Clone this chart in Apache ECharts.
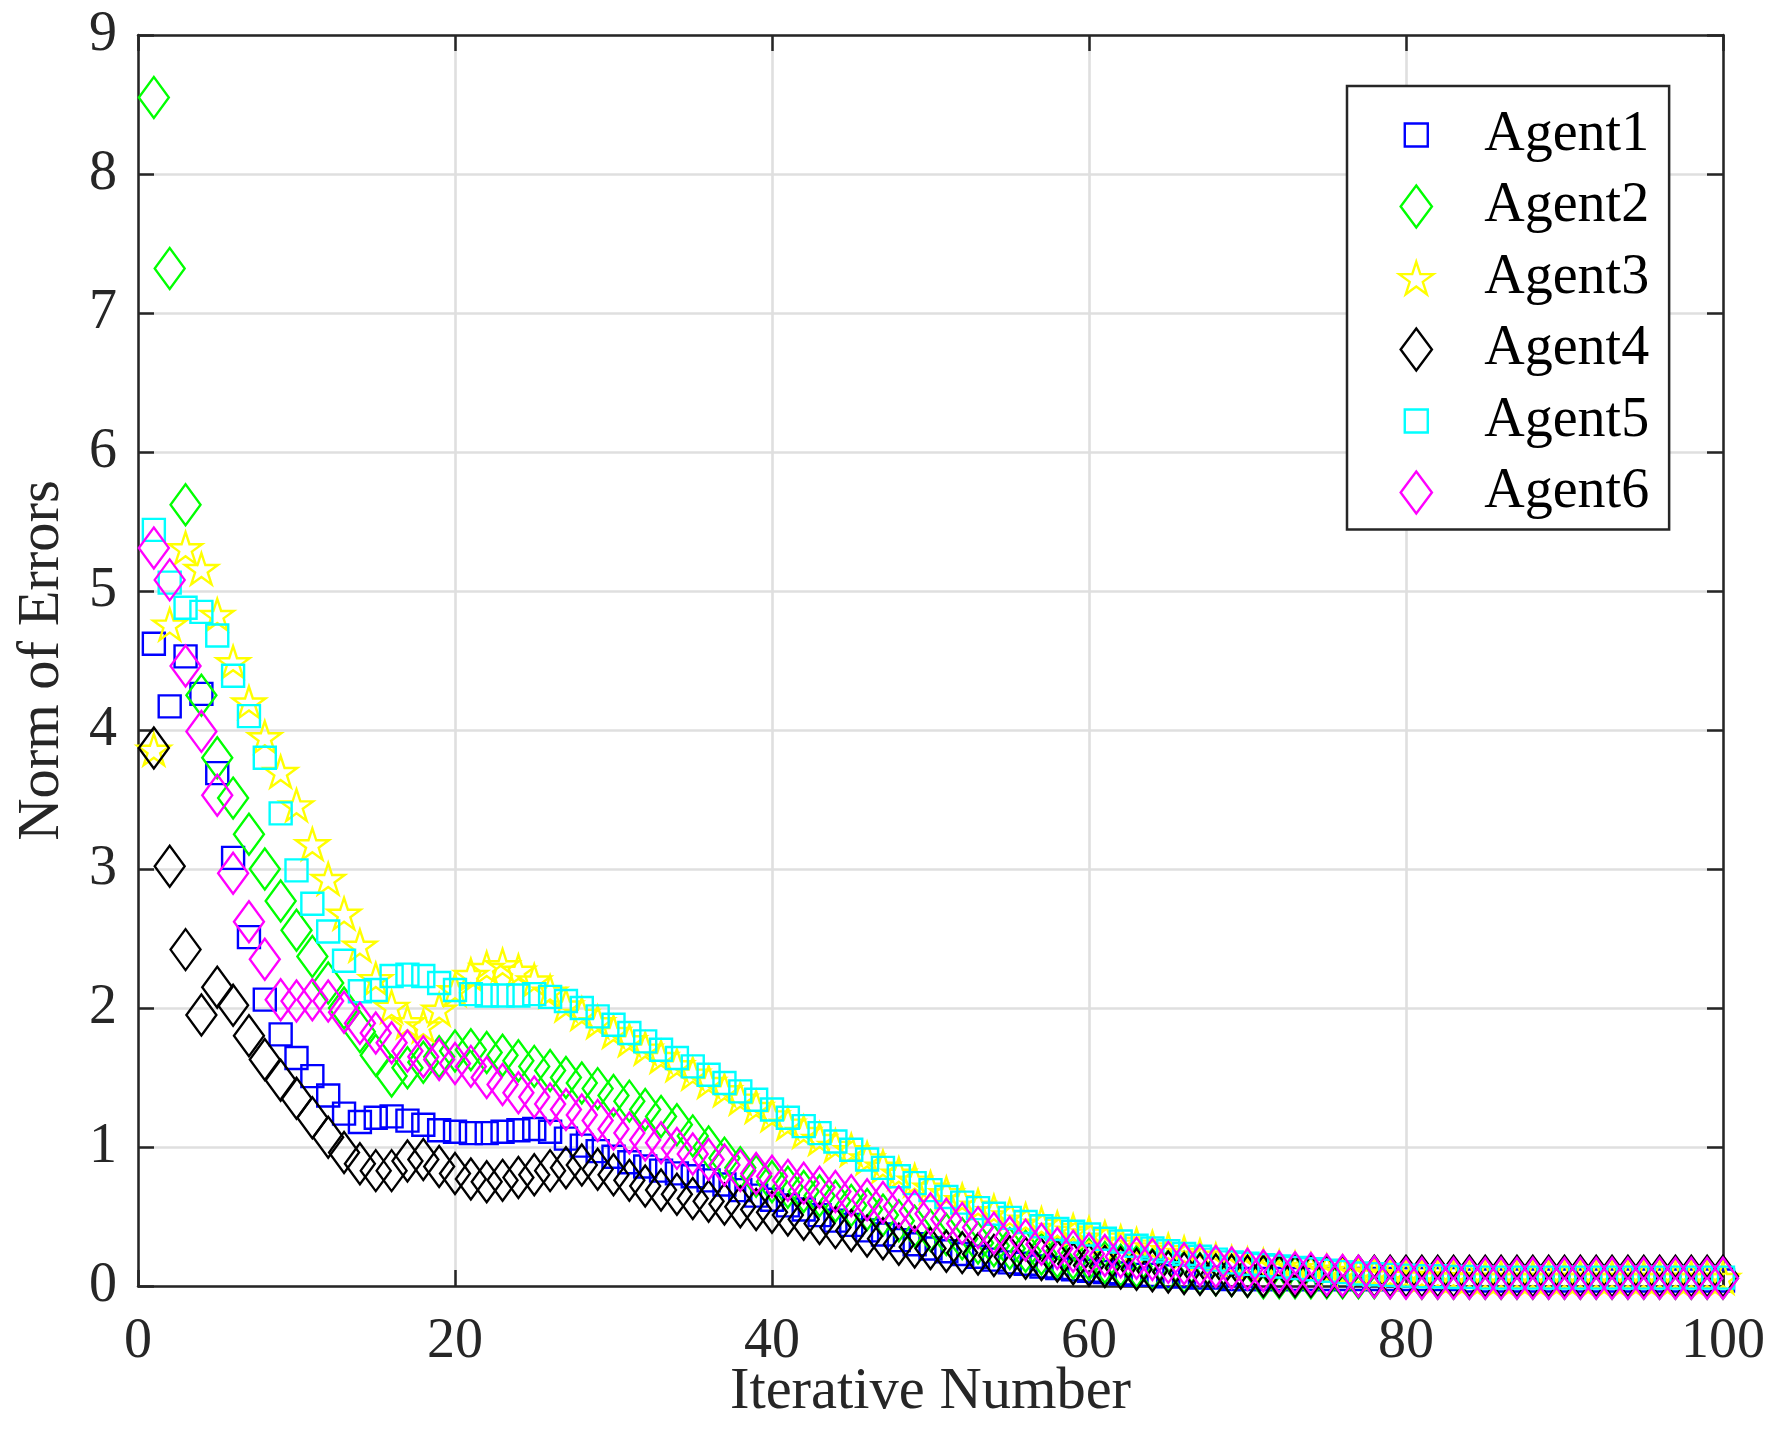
<!DOCTYPE html>
<html>
<head>
<meta charset="utf-8">
<title>Norm of Errors</title>
<script src="https://cdn.jsdelivr.net/npm/echarts@6/dist/echarts.min.js"></script>
<style>
    html, body { margin: 0; padding: 0; background: #fff; }
    #chart { width: 1785px; height: 1453px; }
</style>
</head>
<body>
<div id="chart"></div>
<script>
// iteration index (x)
var iterations = [
    1, 2, 3, 4, 5, 6, 7, 8, 9, 10, 11, 12, 13, 14, 15, 16, 17, 18, 19, 20,
    21, 22, 23, 24, 25, 26, 27, 28, 29, 30, 31, 32, 33, 34, 35, 36, 37, 38, 39, 40,
    41, 42, 43, 44, 45, 46, 47, 48, 49, 50, 51, 52, 53, 54, 55, 56, 57, 58, 59, 60,
    61, 62, 63, 64, 65, 66, 67, 68, 69, 70, 71, 72, 73, 74, 75, 76, 77, 78, 79, 80,
    81, 82, 83, 84, 85, 86, 87, 88, 89, 90, 91, 92, 93, 94, 95, 96, 97, 98, 99, 100
];

var agent1 = [
    4.62, 4.17, 4.53, 4.26, 3.69, 3.08, 2.51, 2.06, 1.81, 1.64,
    1.51, 1.37, 1.24, 1.18, 1.21, 1.22, 1.19, 1.16, 1.12, 1.11,
    1.10, 1.10, 1.11, 1.12, 1.13, 1.11, 1.06, 1.01, 0.97, 0.93,
    0.89, 0.86, 0.83, 0.81, 0.79, 0.76, 0.73, 0.69, 0.65, 0.62,
    0.58, 0.55, 0.51, 0.47, 0.44, 0.40, 0.37, 0.33, 0.30, 0.27,
    0.25, 0.23, 0.21, 0.19, 0.17, 0.16, 0.14, 0.13, 0.12, 0.11,
    0.10, 0.09, 0.08, 0.08, 0.07, 0.07, 0.06, 0.06, 0.05, 0.05,
    0.05, 0.05, 0.05, 0.05, 0.05, 0.05, 0.05, 0.05, 0.05, 0.05,
    0.05, 0.05, 0.05, 0.04, 0.04, 0.04, 0.04, 0.04, 0.04, 0.04,
    0.04, 0.04, 0.04, 0.04, 0.04, 0.04, 0.04, 0.04, 0.04, 0.04
];

var agent2 = [
    8.55, 7.32, 5.62, 4.25, 3.80, 3.51, 3.25, 3.00, 2.77, 2.56,
    2.37, 2.18, 2.00, 1.83, 1.66, 1.51, 1.57, 1.61, 1.65, 1.69,
    1.70, 1.68, 1.66, 1.62, 1.58, 1.55, 1.50, 1.46, 1.42, 1.37,
    1.33, 1.27, 1.22, 1.16, 1.08, 1.00, 0.92, 0.85, 0.79, 0.75,
    0.71, 0.68, 0.65, 0.61, 0.58, 0.55, 0.51, 0.47, 0.43, 0.40,
    0.37, 0.34, 0.31, 0.29, 0.27, 0.25, 0.23, 0.21, 0.20, 0.19,
    0.17, 0.15, 0.14, 0.12, 0.11, 0.10, 0.09, 0.08, 0.075, 0.07,
    0.06, 0.06, 0.06, 0.06, 0.06, 0.06, 0.06, 0.06, 0.06, 0.06,
    0.055, 0.055, 0.055, 0.055, 0.055, 0.055, 0.055, 0.055, 0.055, 0.055,
    0.055, 0.055, 0.055, 0.055, 0.055, 0.055, 0.055, 0.055, 0.055, 0.055
];

var agent3 = [
    3.86, 4.76, 5.31, 5.16, 4.83, 4.49, 4.20, 3.95, 3.70, 3.46,
    3.18, 2.93, 2.68, 2.45, 2.21, 2.01, 1.90, 1.87, 1.99, 2.13,
    2.24, 2.29, 2.31, 2.27, 2.20, 2.12, 2.02, 1.96, 1.90, 1.83,
    1.77, 1.71, 1.65, 1.59, 1.53, 1.47, 1.41, 1.35, 1.29, 1.23,
    1.17, 1.11, 1.06, 1.01, 0.98, 0.92, 0.86, 0.81, 0.76, 0.71,
    0.67, 0.62, 0.58, 0.54, 0.51, 0.48, 0.45, 0.42, 0.40, 0.38,
    0.35, 0.32, 0.30, 0.28, 0.26, 0.24, 0.22, 0.19, 0.17, 0.16,
    0.15, 0.14, 0.13, 0.12, 0.11, 0.10, 0.09, 0.085, 0.08, 0.075,
    0.07, 0.065, 0.065, 0.06, 0.06, 0.06, 0.06, 0.06, 0.06, 0.06,
    0.06, 0.06, 0.06, 0.06, 0.06, 0.06, 0.06, 0.06, 0.06, 0.06
];

var agent4 = [
    3.87, 3.02, 2.42, 1.95, 2.15, 2.02, 1.80, 1.63, 1.48, 1.35,
    1.21, 1.07, 0.96, 0.88, 0.83, 0.83, 0.90, 0.91, 0.86, 0.81,
    0.77, 0.75, 0.76, 0.78, 0.80, 0.83, 0.85, 0.87, 0.84, 0.80,
    0.76, 0.72, 0.69, 0.66, 0.63, 0.61, 0.59, 0.57, 0.55, 0.53,
    0.51, 0.48, 0.45, 0.42, 0.40, 0.36, 0.34, 0.30, 0.28, 0.27,
    0.25, 0.24, 0.23, 0.22, 0.21, 0.20, 0.19, 0.18, 0.16, 0.15,
    0.14, 0.13, 0.12, 0.11, 0.10, 0.09, 0.085, 0.08, 0.075, 0.07,
    0.07, 0.07, 0.07, 0.07, 0.07, 0.07, 0.07, 0.07, 0.07, 0.07,
    0.07, 0.07, 0.07, 0.07, 0.07, 0.07, 0.07, 0.07, 0.07, 0.07,
    0.07, 0.07, 0.07, 0.07, 0.07, 0.07, 0.07, 0.07, 0.07, 0.07
];

var agent5 = [
    5.44, 5.06, 4.88, 4.85, 4.68, 4.39, 4.10, 3.80, 3.40, 2.99,
    2.75, 2.55, 2.34, 2.12, 2.13, 2.23, 2.24, 2.23, 2.18, 2.13,
    2.10, 2.09, 2.09, 2.09, 2.10, 2.08, 2.05, 2.00, 1.94, 1.88,
    1.82, 1.76, 1.70, 1.64, 1.58, 1.52, 1.46, 1.40, 1.34, 1.27,
    1.21, 1.15, 1.10, 1.04, 0.98, 0.91, 0.85, 0.79, 0.74, 0.69,
    0.64, 0.60, 0.56, 0.52, 0.49, 0.46, 0.43, 0.41, 0.39, 0.37,
    0.34, 0.32, 0.29, 0.27, 0.25, 0.23, 0.21, 0.19, 0.17, 0.16,
    0.15, 0.14, 0.13, 0.12, 0.11, 0.10, 0.09, 0.085, 0.08, 0.075,
    0.07, 0.07, 0.065, 0.065, 0.06, 0.06, 0.06, 0.06, 0.06, 0.06,
    0.06, 0.06, 0.06, 0.06, 0.06, 0.06, 0.06, 0.06, 0.06, 0.06
];

var agent6 = [
    5.31, 5.08, 4.46, 3.99, 3.53, 2.97, 2.62, 2.35, 2.06, 2.05,
    2.06, 2.05, 1.97, 1.89, 1.82, 1.75, 1.69, 1.65, 1.63, 1.60,
    1.58, 1.50, 1.45, 1.39, 1.36, 1.31, 1.27, 1.23, 1.19, 1.13,
    1.10, 1.05, 1.03, 0.99, 0.95, 0.91, 0.87, 0.83, 0.81, 0.79,
    0.76, 0.74, 0.71, 0.68, 0.65, 0.62, 0.60, 0.57, 0.54, 0.52,
    0.48, 0.45, 0.42, 0.38, 0.35, 0.33, 0.30, 0.27, 0.25, 0.23,
    0.22, 0.21, 0.20, 0.19, 0.17, 0.16, 0.15, 0.14, 0.13, 0.12,
    0.11, 0.10, 0.095, 0.09, 0.08, 0.075, 0.07, 0.065, 0.06, 0.055,
    0.055, 0.055, 0.055, 0.055, 0.055, 0.055, 0.055, 0.055, 0.055, 0.055,
    0.055, 0.055, 0.055, 0.055, 0.055, 0.055, 0.055, 0.055, 0.055, 0.055
];

var names = ['Agent1', 'Agent2', 'Agent3', 'Agent4', 'Agent5', 'Agent6'];
var colors = ['#0000ff', '#00ff00', '#ffff00', '#000000', '#00ffff', '#ff00ff'];
var values = [agent1, agent2, agent3, agent4, agent5, agent6];

var xTicks = { min: 0, max: 100, interval: 20 };
var yTicks = { min: 0, max: 9, interval: 1 };

var FONT = '"Liberation Serif", "Times New Roman", serif';
var AXIS_COLOR = '#262626';

// marker shapes
var STAR = 'path://M0,-100 L22.45,-30.9 L95.1,-30.9 L36.33,11.8 L58.78,80.9 L0,38.2 L-58.78,80.9 L-36.33,11.8 L-95.1,-30.9 L-22.45,-30.9 Z';
var symbols = ['rect', 'diamond', STAR, 'diamond', 'rect', 'diamond'];
var sizes = [22, [30, 41], 33, [30, 41], 22, [30, 41]];

// legend icons (padded so they keep their size inside the icon box)
var ICON_SQUARE = 'path://M0,0 L23,0 L23,23 L0,23 Z M-5,-9.5 M28,32.5';
var ICON_DIAMOND = 'path://M16,0 L32,21.5 L16,43 L0,21.5 Z';
var ICON_STAR = STAR + ' M0,-126.5 M0,107.4';
var legendIcons = [ICON_SQUARE, ICON_DIAMOND, ICON_STAR, ICON_DIAMOND, ICON_SQUARE, ICON_DIAMOND];

function pairs(ys) {
    var out = [];
    for (var i = 0; i < ys.length; i++) {
        out.push([iterations[i], ys[i]]);
    }
    return out;
}

var series = [];
var legendData = [];
for (var k = 0; k < names.length; k++) {
    series.push({
        name: names[k],
        type: 'scatter',
        symbol: symbols[k],
        symbolSize: sizes[k],
        symbolKeepAspect: true,
        itemStyle: {
            color: 'rgba(0,0,0,0)',
            borderColor: colors[k],
            borderWidth: 2.4,
            opacity: 1
        },
        emphasis: { disabled: true },
        data: pairs(values[k])
    });
    legendData.push({ name: names[k], icon: legendIcons[k] });
}

var chart = echarts.init(document.getElementById('chart'));
var option = {
    animation: false,
    backgroundColor: '#ffffff',
    grid: {
        left: 138,
        right: 62,
        top: 35,
        bottom: 167,
        containLabel: false
    },
    legend: {
        orient: 'vertical',
        left: 1347,
        top: 86,
        padding: [21, 20, 9, 51],
        itemGap: 15.5,
        itemWidth: 126,
        itemHeight: 42,
        backgroundColor: '#ffffff',
        borderColor: AXIS_COLOR,
        borderWidth: 2.5,
        borderRadius: 0,
        itemStyle: { borderWidth: 2.4 },
        textStyle: {
            fontFamily: FONT,
            fontSize: 56,
            color: '#000'
        },
        data: legendData
    },
    xAxis: [
        {
            type: 'value',
            position: 'bottom',
            min: xTicks.min,
            max: xTicks.max,
            interval: xTicks.interval,
            name: 'Iterative Number',
            nameLocation: 'middle',
            nameGap: 77,
            nameMoveOverlap: false,
            nameTextStyle: { fontFamily: FONT, fontSize: 58.5, color: AXIS_COLOR },
            axisLine: { show: true, onZero: false, lineStyle: { color: AXIS_COLOR, width: 2.5 } },
            axisTick: { show: true, inside: true, length: 16, lineStyle: { color: AXIS_COLOR, width: 2.5 } },
            axisLabel: { margin: 28, fontFamily: FONT, fontSize: 56, color: AXIS_COLOR },
            splitLine: { show: true, lineStyle: { color: '#dfdfdf', width: 2.6 } }
        },
        {
            type: 'value',
            position: 'top',
            min: xTicks.min,
            max: xTicks.max,
            interval: xTicks.interval,
            axisLine: { show: true, onZero: false, lineStyle: { color: AXIS_COLOR, width: 2.5 } },
            axisTick: { show: true, inside: true, length: 16, lineStyle: { color: AXIS_COLOR, width: 2.5 } },
            axisLabel: { show: false },
            splitLine: { show: false }
        }
    ],
    yAxis: [
        {
            type: 'value',
            position: 'left',
            min: yTicks.min,
            max: yTicks.max,
            interval: yTicks.interval,
            name: 'Norm of Errors',
            nameLocation: 'middle',
            nameGap: 66,
            nameTextStyle: { fontFamily: FONT, fontSize: 58.5, color: AXIS_COLOR },
            axisLine: { show: true, onZero: false, lineStyle: { color: AXIS_COLOR, width: 2.5 } },
            axisTick: { show: true, inside: true, length: 16, lineStyle: { color: AXIS_COLOR, width: 2.5 } },
            axisLabel: { margin: 21, fontFamily: FONT, fontSize: 56, color: AXIS_COLOR },
            splitLine: { show: true, lineStyle: { color: '#dfdfdf', width: 2.6 } }
        },
        {
            type: 'value',
            position: 'right',
            min: yTicks.min,
            max: yTicks.max,
            interval: yTicks.interval,
            axisLine: { show: true, onZero: false, lineStyle: { color: AXIS_COLOR, width: 2.5 } },
            axisTick: { show: true, inside: true, length: 16, lineStyle: { color: AXIS_COLOR, width: 2.5 } },
            axisLabel: { show: false },
            splitLine: { show: false }
        }
    ],
    series: series
};
chart.setOption(option);
</script>
</body>
</html>
